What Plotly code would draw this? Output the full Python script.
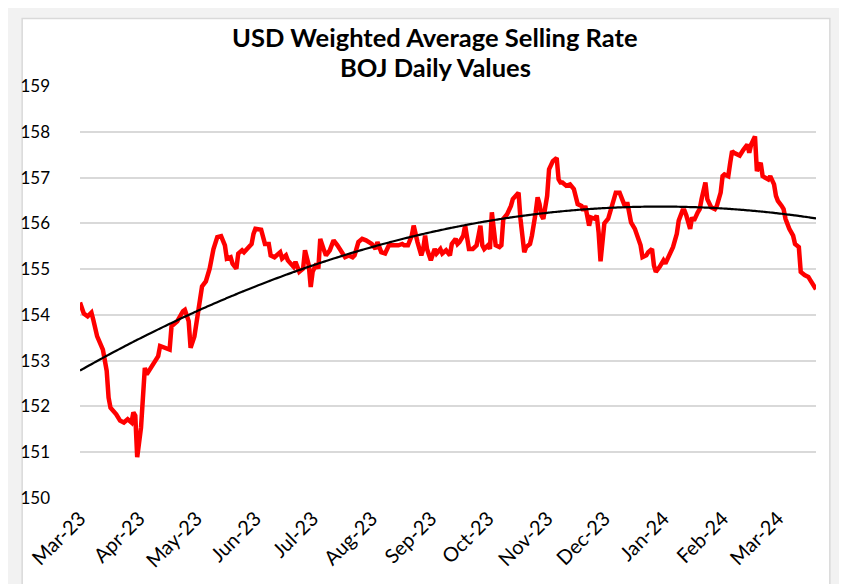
import numpy as np
import pandas as pd
import plotly.graph_objects as go

# ---------------- data ----------------
dates = [
    # Mar-23
    "2023-03-01", "2023-03-02", "2023-03-03", "2023-03-05", "2023-03-07", "2023-03-08",
    "2023-03-09", "2023-03-10", "2023-03-13", "2023-03-15", "2023-03-16", "2023-03-17",
    "2023-03-20", "2023-03-22", "2023-03-24", "2023-03-26", "2023-03-28", "2023-03-29",
    "2023-03-30", "2023-03-31",
    # Apr-23
    "2023-04-02", "2023-04-03", "2023-04-04", "2023-04-05", "2023-04-08", "2023-04-11",
    "2023-04-12", "2023-04-15", "2023-04-17", "2023-04-18", "2023-04-21", "2023-04-24",
    "2023-04-25", "2023-04-27", "2023-04-28", "2023-04-30",
    # May-23
    "2023-05-01", "2023-05-03", "2023-05-04", "2023-05-06", "2023-05-07", "2023-05-08",
    "2023-05-10", "2023-05-12", "2023-05-14", "2023-05-16", "2023-05-17", "2023-05-19",
    "2023-05-20", "2023-05-22", "2023-05-23", "2023-05-25", "2023-05-26", "2023-05-28",
    "2023-05-30", "2023-05-31",
    # Jun-23
    "2023-06-01", "2023-06-04", "2023-06-05", "2023-06-06", "2023-06-08", "2023-06-09",
    "2023-06-11", "2023-06-14", "2023-06-15", "2023-06-17", "2023-06-18", "2023-06-21",
    "2023-06-22", "2023-06-24", "2023-06-26", "2023-06-27", "2023-06-29", "2023-06-30",
    # Jul-23
    "2023-07-01", "2023-07-03", "2023-07-04", "2023-07-05", "2023-07-07", "2023-07-08",
    "2023-07-10", "2023-07-12", "2023-07-14", "2023-07-16", "2023-07-18", "2023-07-20",
    "2023-07-22", "2023-07-23", "2023-07-25", "2023-07-27", "2023-07-29",
    # Aug-23
    "2023-08-01", "2023-08-03", "2023-08-04", "2023-08-06", "2023-08-08", "2023-08-10",
    "2023-08-12", "2023-08-15", "2023-08-17", "2023-08-18", "2023-08-20", "2023-08-22",
    "2023-08-23", "2023-08-24", "2023-08-25", "2023-08-27", "2023-08-28", "2023-08-29",
    "2023-08-30",
    # Sep-23
    "2023-09-01", "2023-09-03", "2023-09-04", "2023-09-06", "2023-09-07", "2023-09-09",
    "2023-09-11", "2023-09-12", "2023-09-14", "2023-09-15", "2023-09-16", "2023-09-18",
    "2023-09-19", "2023-09-20", "2023-09-21", "2023-09-23", "2023-09-25", "2023-09-26",
    "2023-09-27", "2023-09-28", "2023-09-29",
    # Oct-23
    "2023-10-01", "2023-10-02", "2023-10-03", "2023-10-05", "2023-10-07", "2023-10-08",
    "2023-10-09", "2023-10-11", "2023-10-13", "2023-10-14", "2023-10-17", "2023-10-18",
    "2023-10-20", "2023-10-21", "2023-10-23", "2023-10-24", "2023-10-26", "2023-10-27",
    "2023-10-28", "2023-10-29", "2023-10-30",
    # Nov-23
    "2023-11-01", "2023-11-02", "2023-11-03", "2023-11-04", "2023-11-06", "2023-11-07",
    "2023-11-08", "2023-11-09", "2023-11-11", "2023-11-13", "2023-11-15", "2023-11-16",
    "2023-11-17", "2023-11-19", "2023-11-20", "2023-11-21", "2023-11-22", "2023-11-23",
    "2023-11-24", "2023-11-26", "2023-11-27", "2023-11-28", "2023-11-29", "2023-11-30",
    # Dec-23
    "2023-12-01", "2023-12-03", "2023-12-05", "2023-12-07", "2023-12-09", "2023-12-11",
    "2023-12-12", "2023-12-13", "2023-12-14", "2023-12-15", "2023-12-17", "2023-12-18",
    "2023-12-20", "2023-12-21", "2023-12-23", "2023-12-24", "2023-12-26", "2023-12-27",
    "2023-12-28", "2023-12-30",
    # Jan-24
    "2024-01-01", "2024-01-02", "2024-01-04", "2024-01-06", "2024-01-08", "2024-01-09",
    "2024-01-11", "2024-01-12", "2024-01-13", "2024-01-15", "2024-01-16", "2024-01-17",
    "2024-01-19", "2024-01-20", "2024-01-21", "2024-01-22", "2024-01-23", "2024-01-24",
    "2024-01-25", "2024-01-26", "2024-01-28", "2024-01-29", "2024-01-31",
    # Feb-24
    "2024-02-01", "2024-02-02", "2024-02-04", "2024-02-05", "2024-02-06", "2024-02-07",
    "2024-02-09", "2024-02-10", "2024-02-12", "2024-02-13", "2024-02-14", "2024-02-15",
    "2024-02-16", "2024-02-18", "2024-02-19", "2024-02-20", "2024-02-21", "2024-02-22",
    "2024-02-23", "2024-02-25", "2024-02-26", "2024-02-28", "2024-02-29",
    # Mar-24
    "2024-03-01", "2024-03-03", "2024-03-04", "2024-03-05", "2024-03-07", "2024-03-09",
    "2024-03-10", "2024-03-12", "2024-03-13", "2024-03-15", "2024-03-17", "2024-03-18",
    "2024-03-20", "2024-03-21",
]

rates = [
    # Mar-23
    154.27, 154.10, 154.03, 153.97, 154.05, 153.89,
    153.75, 153.53, 153.24, 152.78, 152.19, 151.97,
    151.83, 151.69, 151.65, 151.72, 151.65, 151.87,
    151.80, 150.89,
    # Apr-23
    151.54, 152.41, 152.84, 152.70, 152.88, 153.10,
    153.32, 153.28, 153.24, 153.75, 153.86, 154.08,
    154.11, 153.86, 153.28, 153.53,
    # May-23
    153.78, 154.36, 154.62, 154.73, 154.87, 155.01,
    155.44, 155.70, 155.72, 155.52, 155.23, 155.26,
    155.12, 155.01, 155.34, 155.41, 155.37, 155.48,
    155.55, 155.77,
    # Jun-23
    155.88, 155.86, 155.73, 155.55, 155.55, 155.30,
    155.26, 155.37, 155.23, 155.30, 155.19, 155.05,
    155.16, 154.94, 155.01, 155.41, 155.08, 154.61,
    # Jul-23
    154.94, 155.12, 155.01, 155.66, 155.41, 155.30,
    155.41, 155.63, 155.52, 155.37, 155.26, 155.30,
    155.26, 155.30, 155.59, 155.66, 155.63,
    # Aug-23
    155.55, 155.44, 155.59, 155.37, 155.34, 155.52,
    155.52, 155.52, 155.55, 155.52, 155.52, 155.73,
    155.95, 155.73, 155.59, 155.30, 155.44, 155.73,
    155.44,
    # Sep-23
    155.19, 155.44, 155.34, 155.44, 155.34, 155.41,
    155.30, 155.55, 155.66, 155.55, 155.59, 155.73,
    155.95, 155.73, 155.44, 155.44, 155.52, 155.73,
    155.95, 155.52, 155.44,
    # Oct-23
    155.52, 155.44, 156.24, 155.52, 155.48, 155.52,
    156.10, 156.20, 156.38, 156.53, 156.67, 156.10,
    155.37, 155.48, 155.55, 155.73, 156.24, 156.57,
    156.42, 156.17, 156.10,
    # Nov-23
    156.60, 157.18, 157.25, 157.36, 157.43, 156.96,
    156.89, 156.89, 156.82, 156.85, 156.75, 156.60,
    156.42, 156.38, 156.28, 156.38, 156.17, 155.95,
    156.13, 156.10, 156.17, 155.80, 155.17, 155.60,
    # Dec-23
    156.00, 156.10, 156.42, 156.67, 156.67, 156.46,
    156.35, 156.46, 156.28, 156.02, 155.88, 155.73,
    155.52, 155.26, 155.30, 155.37, 155.44, 155.08,
    154.94, 155.05,
    # Jan-24
    155.19, 155.12, 155.30, 155.48, 155.77, 156.06,
    156.28, 156.28, 156.17, 155.88, 156.13, 156.06,
    156.24, 156.31, 156.53, 156.71, 156.89, 156.53,
    156.42, 156.35, 156.31, 156.38, 156.67,
    # Feb-24
    157.03, 157.07, 157.03, 157.32, 157.58, 157.54,
    157.50, 157.48, 157.61, 157.65, 157.72, 157.54,
    157.72, 157.90, 157.14, 157.25, 157.32, 157.03,
    157.00, 156.96, 157.03, 156.85, 156.60,
    # Mar-24
    156.49, 156.38, 156.31, 156.10, 155.88, 155.73,
    155.55, 155.48, 154.94, 154.87, 154.83, 154.76,
    154.65, 154.56,
]

title_line1 = "USD Weighted Average Selling Rate"
title_line2 = "BOJ Daily Values"
y_ticks = [150, 151, 152, 153, 154, 155, 156, 157, 158, 159]

# ---------------- trendline: 2nd-order polynomial fit (like Excel) ----------------
dt = pd.to_datetime(dates)
days = np.array([(d - dt[0]).days for d in dt], dtype=float)
coef = np.polyfit(days, np.array(rates), 2)
trend = np.polyval(coef, days)

FONT = "Lato, 'Open Sans', sans-serif"

fig = go.Figure()
fig.add_trace(go.Scatter(
    x=dt, y=rates, mode="lines",
    line=dict(color="#FF0000", width=4.5),
    showlegend=False, hoverinfo="x+y",
))
fig.add_trace(go.Scatter(
    x=dt, y=trend, mode="lines",
    line=dict(color="#000000", width=2.2, shape="spline"),
    showlegend=False, hoverinfo="skip",
))

# The page puts the figure 8px in from the top-left corner of the window,
# so layout pixel positions below are window positions minus 8.
OFF = 8
FW, FH = 847 - OFF, 584 - OFF
L, R, T, B = 71.5 - OFF, 816.0 - OFF, 86.0 - OFF, 501.0 - OFF
W, H = R - L, B - T

def px_x(p):
    return (p - OFF - L) / W

def px_y(p):
    return (B - (p - OFF)) / H

fig.update_layout(
    width=FW, height=FH,
    margin=dict(l=L, r=FW - R, t=T, b=FH - B, pad=0),
    paper_bgcolor="#F2F2F2",
    plot_bgcolor="#FFFFFF",
    font=dict(family=FONT, color="#000000"),
    showlegend=False,
    shapes=[dict(
        type="rect", xref="paper", yref="paper", layer="below",
        x0=px_x(13), x1=px_x(830), y0=px_y(600), y1=px_y(18),
        fillcolor="#FFFFFF", line=dict(color="#D9D9D9", width=1.5),
    )],
    annotations=[
        dict(text=f"<b>{title_line1}</b>", xref="paper", yref="paper",
             x=px_x(431), y=px_y(37), showarrow=False,
             font=dict(family=FONT, size=25.5, color="#000000"),
             xanchor="center", yanchor="middle"),
        dict(text=f"<b>{title_line2}</b>", xref="paper", yref="paper",
             x=px_x(431), y=px_y(67), showarrow=False,
             font=dict(family=FONT, size=25.5, color="#000000"),
             xanchor="center", yanchor="middle"),
    ],
)

fig.update_xaxes(
    type="date",
    range=["2023-03-01", "2024-03-21"],
    tick0="2023-03-01", dtick="M1", tickformat="%b-%y",
    tickangle=-45,
    tickfont=dict(family=FONT, size=20, color="#000000"),
    showgrid=False, zeroline=False, showline=False,
    ticks="", ticklabelstandoff=4,
)
fig.update_yaxes(
    range=[150, 159],
    tickvals=y_ticks,
    tickfont=dict(family=FONT, size=17, color="#000000"),
    showgrid=True, gridcolor="#D9D9D9", gridwidth=1.5,
    zeroline=False, showline=False, ticks="",
    ticklabelstandoff=29,
)

fig.write_html("out.html")
